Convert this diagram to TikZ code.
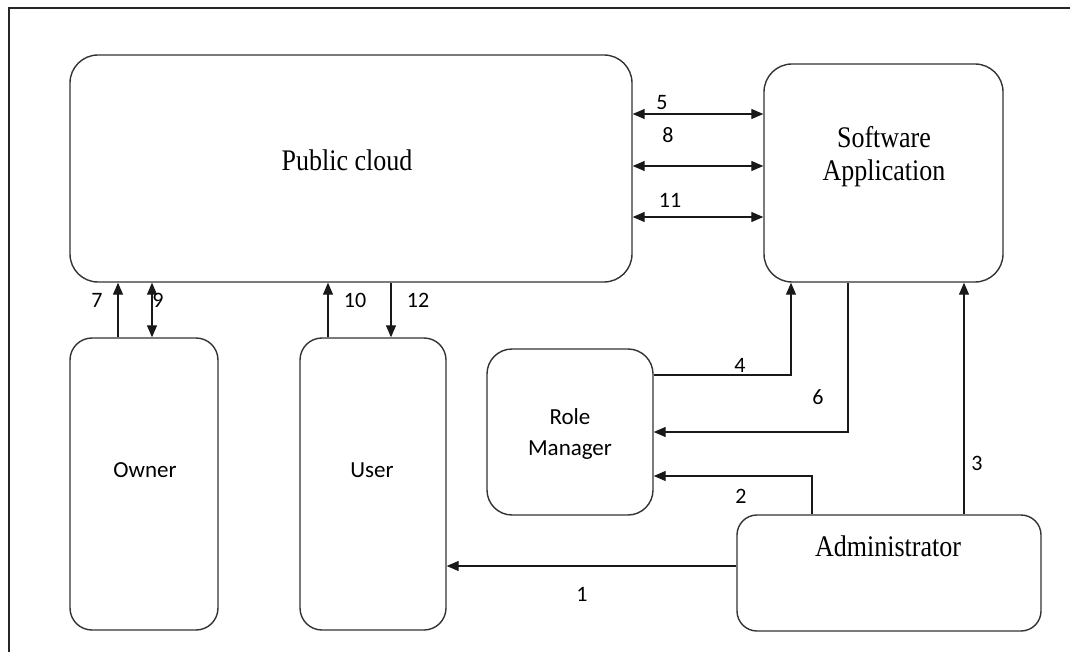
\documentclass[tikz,border=0pt]{standalone}
\usepackage{fontspec}
\usepackage{graphicx}
\setmainfont{Liberation Serif}
\newfontfamily\calib{Carlito}
\usetikzlibrary{arrows.meta}

% tall serif lettering for the box titles
\newcommand{\tallword}[1]{\scalebox{1}[1.15]{#1}}

\tikzset{
  box/.style={draw=black!80, line width=1.4pt, rounded corners=#1,
              minimum width=10pt, inner sep=0pt},
  box/.default=22pt,
  serif/.style={font=\fontsize{26}{33}\selectfont, align=center, inner sep=0pt},
  sans/.style={font=\calib\fontsize{23}{31}\selectfont, align=center, inner sep=0pt},
  num/.style={font=\calib\fontsize{22}{26}\selectfont, inner sep=0pt},
  conn/.style={line width=1.3pt, draw=black!90,
               arrows={-Triangle[length=12pt,width=10pt]}},
  dconn/.style={line width=1.3pt, draw=black!90,
               arrows={Triangle[length=12pt,width=10pt]-Triangle[length=12pt,width=10pt]}}
}

\begin{document}
\begin{tikzpicture}[x=1pt, y=-1pt]
  \useasboundingbox (0,0) rectangle (1070,652);

  % page frame (top and left edges)
  \draw[line width=2pt, black!85] (1070,8) -- (9,8) -- (9,652);

  % boxes
  \node[box=28pt, minimum width=562pt, minimum height=227pt] (cloud) at (351,168.5) {};
  \node[box=28pt, minimum width=239pt, minimum height=218pt] (sw) at (883.5,173) {};
  \node[box, minimum width=148pt, minimum height=292pt] (owner) at (144,484) {};
  \node[box, minimum width=146pt, minimum height=292pt] (user) at (373,484) {};
  \node[box=25pt, minimum width=166pt, minimum height=166pt] (rm) at (570,432) {};
  \node[box=20pt, minimum width=304pt, minimum height=116pt] (adm) at (889,573) {};

  % box texts
  \node[serif] (cloud-t) at (347,160) {\tallword{Public cloud}};
  \node[serif] (sw-t) at (884,157) {\tallword{Software}\\\tallword{Application}};
  \node[sans] (owner-t) at (145,470) {Owner};
  \node[sans] (user-t) at (372,470) {User};
  \node[sans] (rm-t) at (570,434) {Role\\Manager};
  \node[serif] (adm-t) at (888,546) {\tallword{Administrator}};

  % routing coordinates
  \coordinate (c5) at (0,114);
  \coordinate (c8) at (0,166);
  \coordinate (c11) at (0,217);
  \coordinate (c7) at (118,0);
  \coordinate (c9) at (152,0);
  \coordinate (c10) at (328,0);
  \coordinate (c12) at (391,0);
  \coordinate (c4) at (791,375);
  \coordinate (c6) at (848,432);
  \coordinate (c2) at (812,476);
  \coordinate (c3) at (964,0);
  \coordinate (c1) at (0,566);

  % cloud <-> software application
  \draw[dconn] (cloud.east |- c5) -- (sw.west |- c5);
  \draw[dconn] (cloud.east |- c8) -- (sw.west |- c8);
  \draw[dconn] (cloud.east |- c11) -- (sw.west |- c11);

  % owner / user <-> cloud
  \draw[conn] (owner.north -| c7) -- (cloud.south -| c7);
  \draw[dconn] (cloud.south -| c9) -- (owner.north -| c9);
  \draw[conn] (user.north -| c10) -- (cloud.south -| c10);
  \draw[conn] (cloud.south -| c12) -- (user.north -| c12);

  % role manager <-> software application
  \draw[conn] (rm.east |- c4) -| (sw.south -| c4);
  \draw[conn] (sw.south -| c6) |- (rm.east |- c6);

  % administrator links
  \draw[conn] (adm.north -| c2) |- (rm.east |- c2);
  \draw[conn] (adm.north -| c3) -- (sw.south -| c3);
  \draw[conn] (adm.west |- c1) -- (user.east |- c1);

  % step numbers
  \node[num] (n5) at (662,103) {5};
  \node[num] (n8) at (668,135) {8};
  \node[num] (n11) at (670,200) {11};
  \node[num] (n7) at (97,300) {7};
  \node[num] (n9) at (158,300) {9};
  \node[num] (n10) at (355,300) {10};
  \node[num] (n12) at (418,300) {12};
  \node[num] (n4) at (740,365) {4};
  \node[num] (n6) at (818,397) {6};
  \node[num] (n2) at (741,496) {2};
  \node[num] (n3) at (977,463) {3};
  \node[num] (n1) at (582,594) {1};
\end{tikzpicture}
\end{document}
